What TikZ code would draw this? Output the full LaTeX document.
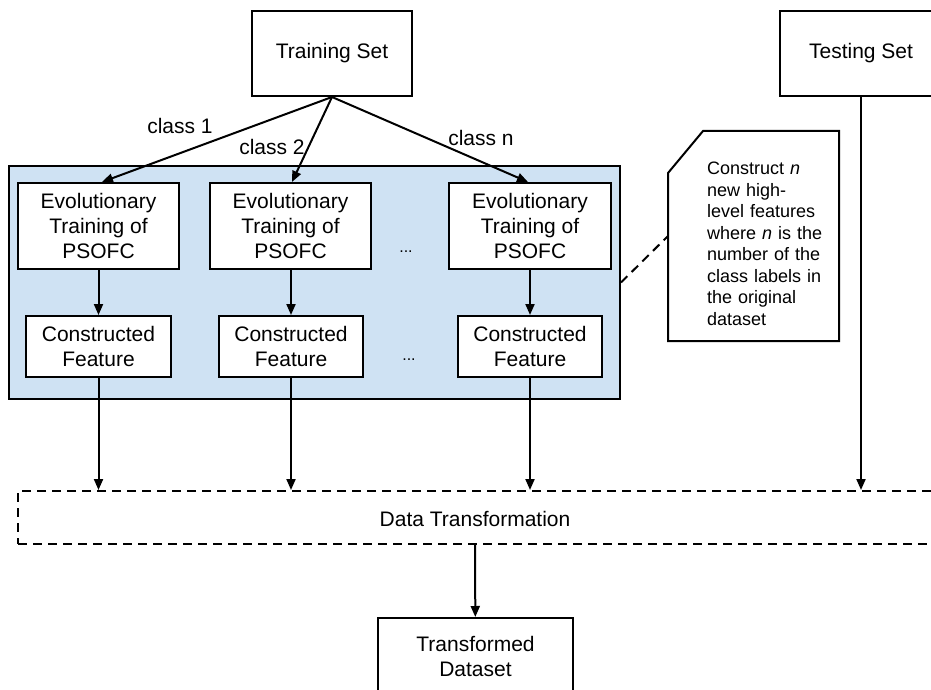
\documentclass[tikz,border=0pt]{standalone}
\usepackage{fontspec}
\setmainfont{Liberation Sans}
\usetikzlibrary{arrows.meta,calc}
\definecolor{grpblue}{HTML}{CFE2F3}
\tikzset{
  box/.style={draw, line width=2pt, fill=white, inner sep=0pt, align=center,
    font=\fontsize{21}{25}\selectfont},
  arr/.style={line width=2pt, -{Triangle[length=11pt,width=9pt]}},
  lbl/.style={font=\fontsize{21}{24}\selectfont, inner sep=0pt},
  dashline/.style={line width=2pt, dash pattern=on 9pt off 6pt},
}
\begin{document}
\begin{tikzpicture}[x=1pt,y=-1pt]
\useasboundingbox (0,0) rectangle (931,690);
\clip (0,0) rectangle (931,690);
% group box
\node[draw, line width=2pt, fill=grpblue, minimum width=611, minimum height=233, inner sep=0pt] (grp) at (314.5,282.5) {};
% top boxes
\node[box, minimum width=160, minimum height=85] (train) at (332,53.5) {Training Set};
\node[box, minimum width=162, minimum height=85] (test) at (861,53.5) {Testing Set};
% evolutionary boxes
\node[box, minimum width=161, minimum height=86] (evo1) at (98.5,226) {Evolutionary\\Training of\\PSOFC};
\node[box, minimum width=161, minimum height=86] (evo2) at (290.5,226) {Evolutionary\\Training of\\PSOFC};
\node[box, minimum width=162, minimum height=86] (evo3) at (530,226) {Evolutionary\\Training of\\PSOFC};
% constructed features
\node[box, minimum width=145, minimum height=61] (cf1) at (98.5,346.5) {Constructed\\Feature};
\node[box, minimum width=144, minimum height=61] (cf2) at (291,346.5) {Constructed\\Feature};
\node[box, minimum width=144, minimum height=61] (cf3) at (530,346.5) {Constructed\\Feature};
% dots
\node[font=\fontsize{16}{16}\selectfont, inner sep=0pt, anchor=base] (dots1) at (406,252) {...};
\node[font=\fontsize{16}{16}\selectfont, inner sep=0pt, anchor=base] (dots2) at (409,360) {...};
% data transformation
\node[draw, dashline, minimum width=940, minimum height=53, inner sep=0pt] (dt) at (488,517.5) {};
\node[lbl] (dtl) at (475,519) {Data Transformation};
% transformed dataset
\node[box, minimum width=195, minimum height=77] (tds) at (475.5,656.5) {Transformed\\Dataset};
% callout
\draw[line width=2pt, fill=white] (703,131) -- (839,131) -- (839,341) -- (668,341) -- (668,173) -- cycle;
\node[anchor=north west, inner sep=0pt, text width=135, align=left,
  font=\fontsize{18}{21.5}\selectfont] (note) at (707,162)
  {Construct \textit{n}\\new high-\\level features\\where \textit{n} is the\\number of the\\class labels in\\the original\\dataset};
\coordinate (noteleft) at (668,236);
\draw[dashline] (grp.east) -- (noteleft);
% arrows from training set
\draw[arr] (train.south) -- ($(evo1.north)+(3.5,0)$);
\draw[arr] (train.south) -- ($(evo2.north)+(1.5,0)$);
\draw[arr] (train.south) -- ($(evo3.north)+(-2,0)$);
\node[lbl] (c1) at (180,126) {class 1};
\node[lbl] (c2) at (272,147) {class 2};
\node[lbl] (cn) at (481,138) {class n};
% evo to cf
\draw[arr] (evo1) -- (cf1);
\draw[arr] (evo2.south -| cf2) -- (cf2);
\draw[arr] (evo3) -- (cf3);
% to data transformation
\draw[arr] (cf1) -- (cf1 |- dt.north);
\draw[arr] (cf2) -- (cf2 |- dt.north);
\draw[arr] (cf3) -- (cf3 |- dt.north);
\draw[arr] (test) -- (test |- dt.north);
% to transformed dataset
\draw[arr] (dtl |- dt.south) -- (tds);
\end{tikzpicture}
\end{document}
